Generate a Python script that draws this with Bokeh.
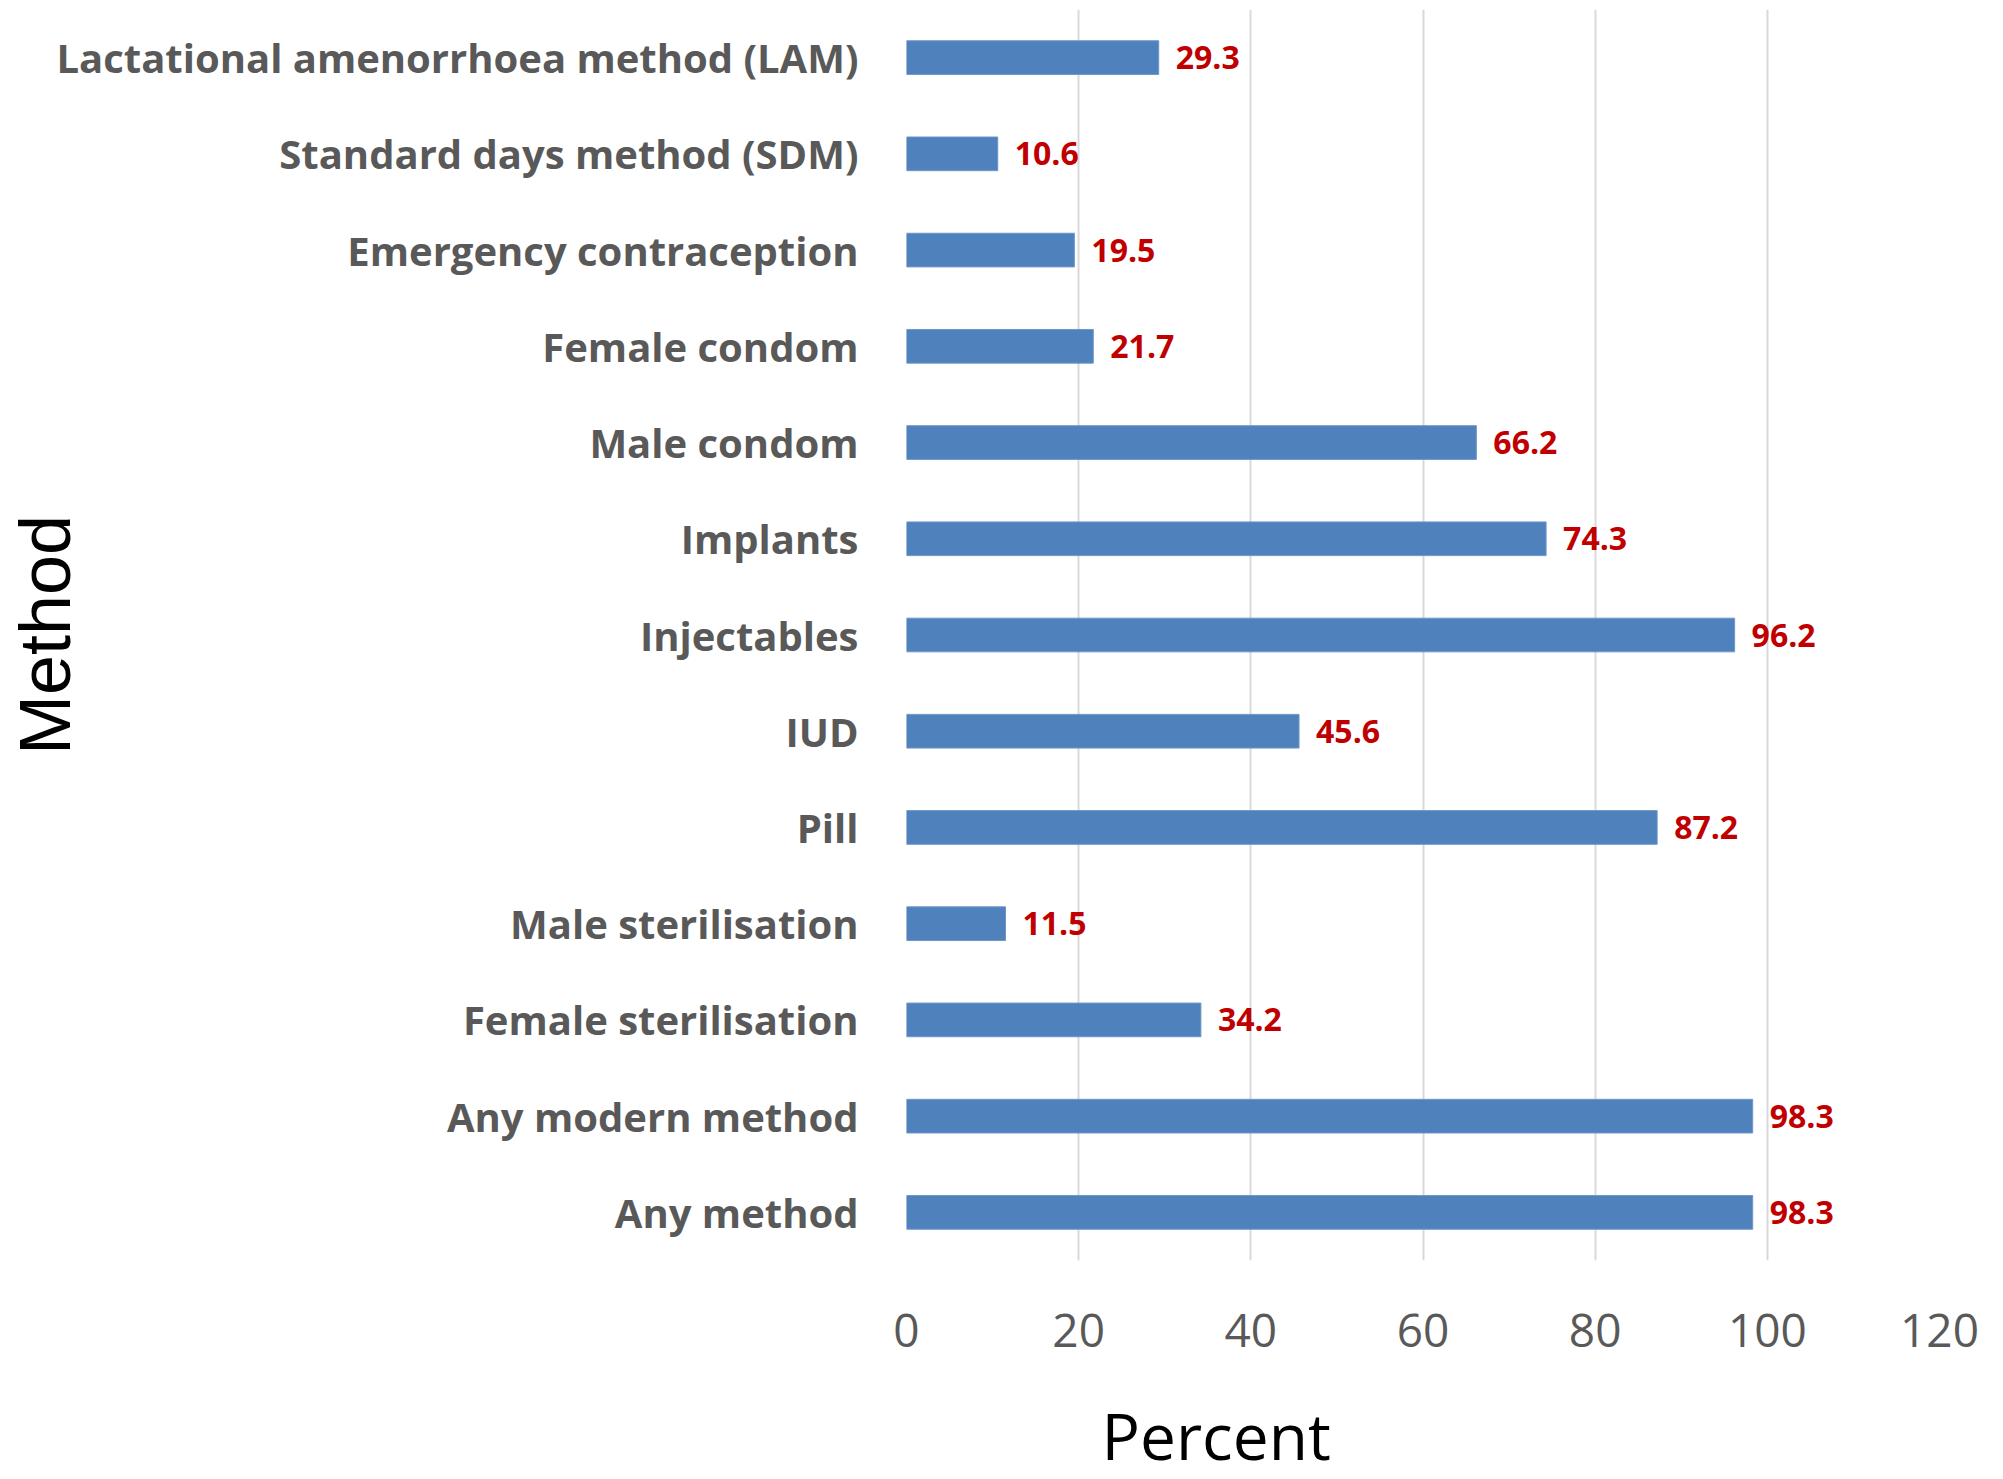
import math
from bokeh.plotting import figure
from bokeh.models import FactorRange, Range1d, ColumnDataSource, FixedTicker, Title
from bokeh.core.properties import value
from bokeh.embed import file_html
from bokeh.resources import INLINE

# Data (bottom to top as drawn)
methods = [
    "Any method",
    "Any modern method",
    "Female sterilisation",
    "Male sterilisation",
    "Pill",
    "IUD",
    "Injectables",
    "Implants",
    "Male condom",
    "Female condom",
    "Emergency contraception",
    "Standard days method (SDM)",
    "Lactational amenorrhoea method (LAM)",
]
percent = [98.3, 98.3, 34.2, 11.5, 87.2, 45.6, 96.2, 74.3, 66.2, 21.7, 19.5, 10.6, 29.3]
x_ticks = [0, 20, 40, 60, 80, 100, 120]
x_title = "Percent"
y_title = "Method"

labels = [f"{v:.1f}" for v in percent]
src = ColumnDataSource(dict(method=methods, pct=percent, lab=labels))

p = figure(
    width=1987, height=1518,
    y_range=FactorRange(factors=methods),
    x_range=Range1d(0, 120),
    output_backend="svg", toolbar_location=None,
    min_border_left=906, min_border_right=48,
    min_border_top=9, min_border_bottom=255,
)
p.outline_line_color = None
p.background_fill_color = "white"
p.border_fill_color = "white"

p.hbar(y="method", right="pct", left=0, height=0.35, source=src,
       fill_color="#4F81BD", line_color="#6E96C8", line_width=1)

p.text(x="pct", y="method", text="lab", source=src, x_offset=17,
       text_align="left", text_baseline="middle",
       text_font=value("Open Sans"), text_font_style="bold",
       text_font_size="32px", text_color="#C00000")

# Grid
p.ygrid.grid_line_color = None
p.xgrid.grid_line_color = "#D9D9D9"
p.xgrid.grid_line_width = 2
p.xaxis.ticker = FixedTicker(ticks=x_ticks)

# X axis
p.xaxis.axis_line_color = None
p.xaxis.major_tick_line_color = None
p.xaxis.minor_tick_line_color = None
p.xaxis.major_tick_out = 0
p.xaxis.major_tick_in = 0
p.xaxis.major_label_text_font = "Open Sans"
p.xaxis.major_label_text_font_size = "46px"
p.xaxis.major_label_text_color = "#595959"
p.xaxis.major_label_standoff = 53

# Y axis
p.yaxis.axis_line_color = None
p.yaxis.major_tick_line_color = None
p.yaxis.minor_tick_line_color = None
p.yaxis.major_tick_out = 0
p.yaxis.major_tick_in = 0
p.yaxis.major_label_text_font = "Open Sans"
p.yaxis.major_label_text_font_style = "bold"
p.yaxis.major_label_text_font_size = "40px"
p.yaxis.major_label_text_color = "#595959"
p.yaxis.major_label_standoff = 48
p.yaxis.axis_label = y_title
p.yaxis.axis_label_standoff = -31
p.yaxis.axis_label_text_font = "Liberation Sans"
p.yaxis.axis_label_text_font_size = "72px"
p.yaxis.axis_label_text_font_style = "normal"
p.yaxis.axis_label_text_color = "black"

# X title
p.add_layout(Title(text=x_title, align="left", offset=195, standoff=80,
                   text_font="Open Sans", text_font_size="64px",
                   text_font_style="normal", text_color="black"), "below")

open("out.html", "w").write(file_html(p, INLINE))
